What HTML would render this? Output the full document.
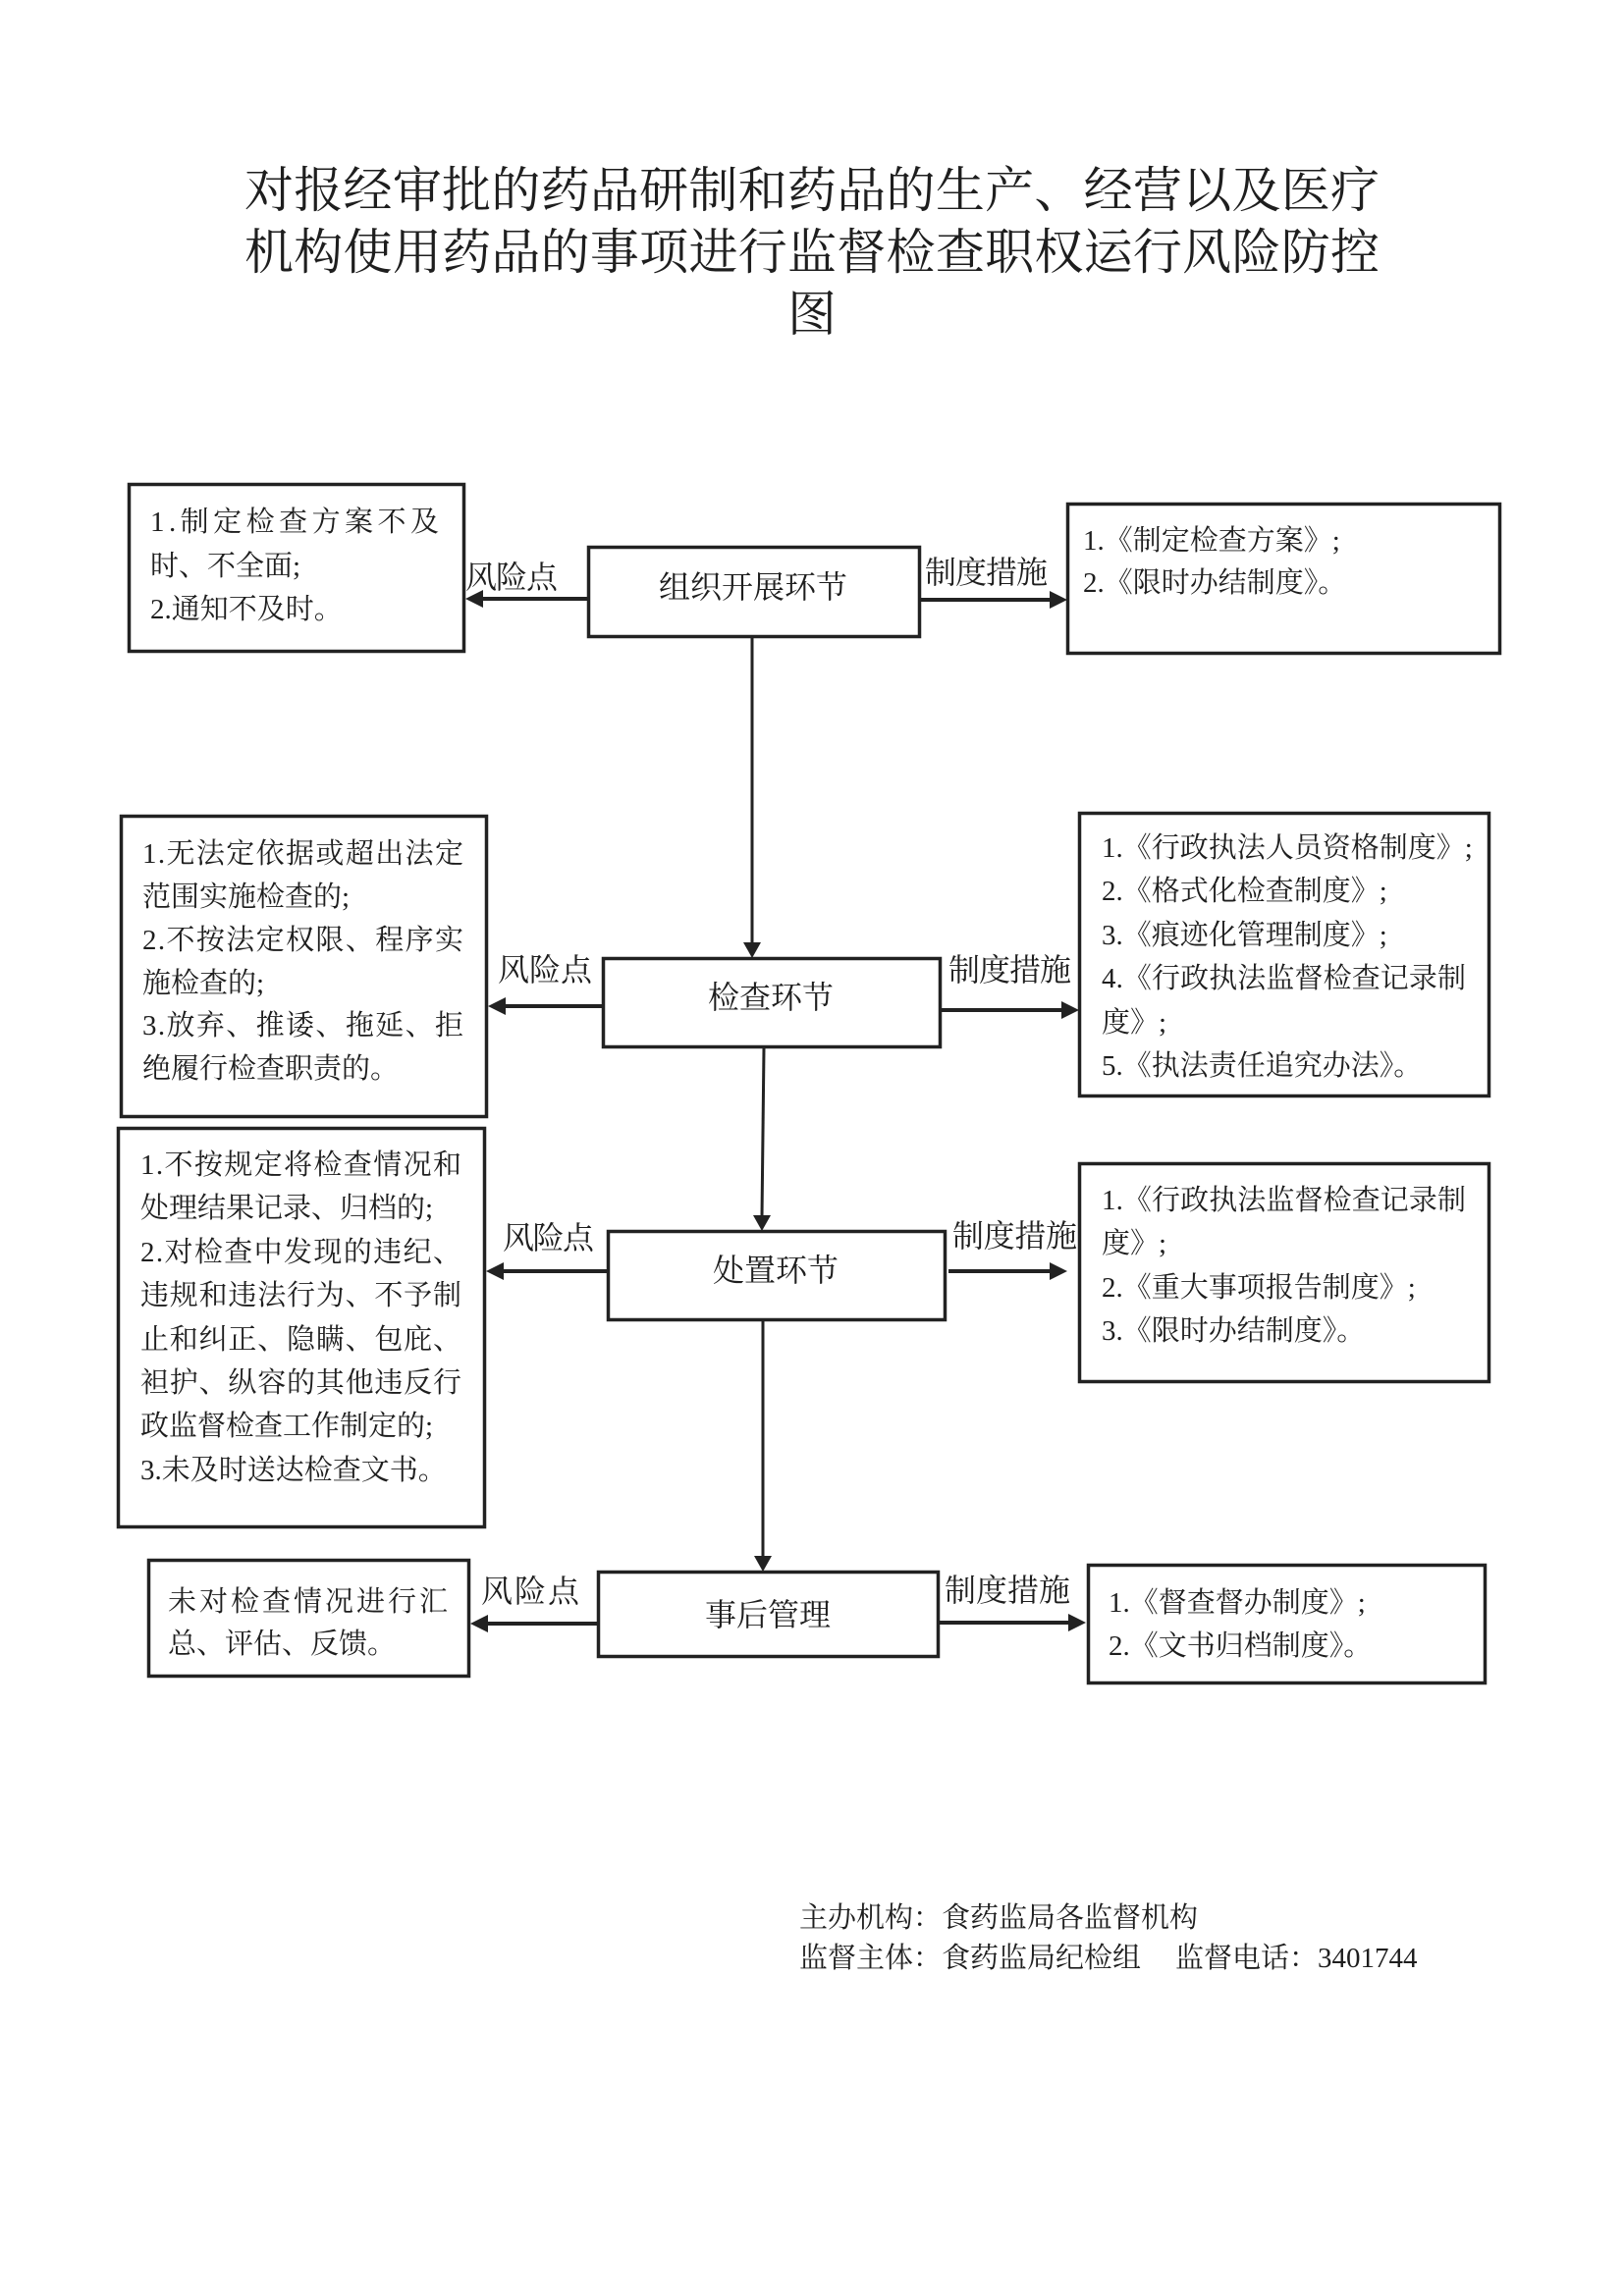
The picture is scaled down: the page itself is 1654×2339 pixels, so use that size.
<!DOCTYPE html>
<html>
<head>
<meta charset="utf-8">
<style>
  html, body { margin:0; padding:0; background:#fff; }
  body { width:1654px; height:2339px; overflow:hidden; }
  svg { display:block; }
  text { font-family: "Liberation Serif", "Noto Serif CJK SC", serif; fill:#1e1e1e; }
  .t { font-size:29px; }
  .lb { font-size:32px; }
  .ct { font-size:32px; text-anchor:middle; }
  .ti { font-size:50px; }
</style>
</head>
<body>
<svg width="1654" height="2339" viewBox="0 0 1654 2339" xmlns="http://www.w3.org/2000/svg">
  <!-- Title -->
  <text class="ti" x="249" y="211" textLength="1156" lengthAdjust="spacing">对报经审批的药品研制和药品的生产、经营以及医疗</text>
  <text class="ti" x="249" y="274" textLength="1156" lengthAdjust="spacing">机构使用药品的事项进行监督检查职权运行风险防控</text>
  <text class="ti" x="827" y="337" text-anchor="middle">图</text>

  <g fill="none" stroke="#222" stroke-width="3.5">
    <!-- Row 1 -->
    <rect x="131.5" y="493.5" width="341" height="170"/>
    <rect x="599.5" y="557.5" width="337" height="91"/>
    <rect x="1087.5" y="513.5" width="440" height="152"/>
    <!-- Row 2 -->
    <rect x="123.5" y="831.5" width="372" height="306"/>
    <rect x="614.5" y="976.5" width="343" height="90"/>
    <rect x="1099.5" y="828.5" width="417" height="288"/>
    <!-- Row 3 -->
    <rect x="120.5" y="1149.5" width="373" height="406"/>
    <rect x="619.5" y="1254.5" width="343" height="90"/>
    <rect x="1099.5" y="1185.5" width="417" height="222"/>
    <!-- Row 4 -->
    <rect x="151.5" y="1589.5" width="326" height="118"/>
    <rect x="609.5" y="1601.5" width="346" height="86"/>
    <rect x="1108.5" y="1594.5" width="404" height="120"/>
  </g>

  <g stroke="#222" stroke-width="4" fill="none">
    <line x1="598" y1="610" x2="488" y2="610"/>
    <line x1="938" y1="611" x2="1070" y2="611"/>
    <line x1="613" y1="1025" x2="512" y2="1025"/>
    <line x1="959" y1="1029" x2="1082" y2="1029"/>
    <line x1="618" y1="1295" x2="510" y2="1295"/>
    <line x1="966" y1="1295" x2="1070" y2="1295"/>
    <line x1="608" y1="1654" x2="494" y2="1654"/>
    <line x1="957" y1="1653" x2="1089" y2="1653"/>
  </g>
  <g stroke="#222" stroke-width="3" fill="none">
    <line x1="766" y1="650" x2="766" y2="962"/>
    <line x1="778" y1="1068" x2="776" y2="1240"/>
    <line x1="777" y1="1346" x2="777" y2="1587"/>
  </g>
  <g fill="#222">
    <polygon points="474,610 492,601 492,619"/>
    <polygon points="497,1025 515,1016 515,1034"/>
    <polygon points="495,1295 513,1286 513,1304"/>
    <polygon points="479,1654 497,1645 497,1663"/>
    <polygon points="1087,611 1069,602 1069,620"/>
    <polygon points="1099,1029 1081,1020 1081,1038"/>
    <polygon points="1087,1295 1069,1286 1069,1304"/>
    <polygon points="1106,1653 1088,1644 1088,1662"/>
    <polygon points="766,976 757,960 775,960"/>
    <polygon points="776,1254 767,1238 785,1238"/>
    <polygon points="777,1601 768,1585 786,1585"/>
  </g>

  <!-- Labels -->
  <text class="lb" x="474" y="599" textLength="94" lengthAdjust="spacing">风险点</text>
  <text class="lb" x="942" y="594" textLength="125" lengthAdjust="spacing">制度措施</text>
  <text class="lb" x="507" y="999" textLength="96" lengthAdjust="spacing">风险点</text>
  <text class="lb" x="966" y="999" textLength="125" lengthAdjust="spacing">制度措施</text>
  <text class="lb" x="512" y="1272" textLength="93" lengthAdjust="spacing">风险点</text>
  <text class="lb" x="970" y="1270" textLength="127" lengthAdjust="spacing">制度措施</text>
  <text class="lb" x="490" y="1632" textLength="100" lengthAdjust="spacing">风险点</text>
  <text class="lb" x="962" y="1631" textLength="128" lengthAdjust="spacing">制度措施</text>

  <!-- Center node texts -->
  <text class="ct" x="767" y="609">组织开展环节</text>
  <text class="ct" x="785" y="1027">检查环节</text>
  <text class="ct" x="790" y="1305">处置环节</text>
  <text class="ct" x="782" y="1656">事后管理</text>

  <!-- L1 -->
  <text class="t" x="153" y="541" textLength="294" lengthAdjust="spacing">1.制定检查方案不及</text>
  <text class="t" x="153" y="586">时、不全面;</text>
  <text class="t" x="153" y="630">2.通知不及时。</text>

  <!-- R1 -->
  <text class="t" x="1103" y="560">1.《制定检查方案》;</text>
  <text class="t" x="1103" y="603">2.《限时办结制度》。</text>

  <!-- L2 -->
  <text class="t" x="145" y="879" textLength="327" lengthAdjust="spacing">1.无法定依据或超出法定</text>
  <text class="t" x="145" y="923">范围实施检查的;</text>
  <text class="t" x="145" y="967" textLength="327" lengthAdjust="spacing">2.不按法定权限、程序实</text>
  <text class="t" x="145" y="1011">施检查的;</text>
  <text class="t" x="145" y="1054" textLength="327" lengthAdjust="spacing">3.放弃、推诿、拖延、拒</text>
  <text class="t" x="145" y="1098">绝履行检查职责的。</text>

  <!-- R2 -->
  <text class="t" x="1122" y="873">1.《行政执法人员资格制度》;</text>
  <text class="t" x="1122" y="917">2.《格式化检查制度》;</text>
  <text class="t" x="1122" y="962">3.《痕迹化管理制度》;</text>
  <text class="t" x="1122" y="1006" textLength="371" lengthAdjust="spacing">4.《行政执法监督检查记录制</text>
  <text class="t" x="1122" y="1051">度》;</text>
  <text class="t" x="1122" y="1095">5.《执法责任追究办法》。</text>

  <!-- L3 -->
  <text class="t" x="143" y="1196" textLength="327" lengthAdjust="spacing">1.不按规定将检查情况和</text>
  <text class="t" x="143" y="1240">处理结果记录、归档的;</text>
  <text class="t" x="143" y="1285" textLength="327" lengthAdjust="spacing">2.对检查中发现的违纪、</text>
  <text class="t" x="143" y="1329" textLength="327" lengthAdjust="spacing">违规和违法行为、不予制</text>
  <text class="t" x="143" y="1374" textLength="327" lengthAdjust="spacing">止和纠正、隐瞒、包庇、</text>
  <text class="t" x="143" y="1418" textLength="327" lengthAdjust="spacing">袒护、纵容的其他违反行</text>
  <text class="t" x="143" y="1462">政监督检查工作制定的;</text>
  <text class="t" x="143" y="1507">3.未及时送达检查文书。</text>

  <!-- R3 -->
  <text class="t" x="1122" y="1232" textLength="371" lengthAdjust="spacing">1.《行政执法监督检查记录制</text>
  <text class="t" x="1122" y="1276">度》;</text>
  <text class="t" x="1122" y="1321">2.《重大事项报告制度》;</text>
  <text class="t" x="1122" y="1365">3.《限时办结制度》。</text>

  <!-- L4 -->
  <text class="t" x="171" y="1641" textLength="285" lengthAdjust="spacing">未对检查情况进行汇</text>
  <text class="t" x="171" y="1684">总、评估、反馈。</text>

  <!-- R4 -->
  <text class="t" x="1129" y="1642">1.《督查督办制度》;</text>
  <text class="t" x="1129" y="1686">2.《文书归档制度》。</text>

  <!-- Footer -->
  <text class="t" x="814" y="1963">主办机构：食药监局各监督机构</text>
  <text class="t" x="814" y="2004">监督主体：食药监局纪检组</text>
  <text class="t" x="1197" y="2004">监督电话：3401744</text>
</svg>
</body>
</html>
